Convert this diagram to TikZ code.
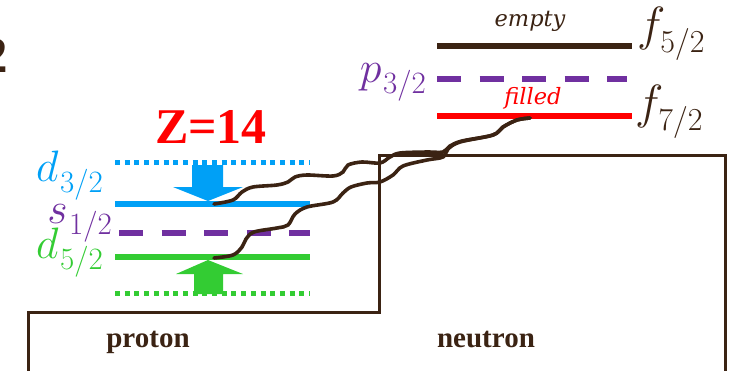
\RequirePackage{fix-cm}
\documentclass[tikz,border=0pt]{standalone}
\usepackage{fontspec}
\newfontfamily\lserif{Liberation Serif}
\newfontfamily\dserif{DejaVu Serif}
\definecolor{lvblue}{HTML}{00A0F6}
\definecolor{lvpurple}{HTML}{7030A0}
\definecolor{lvgreen}{HTML}{33CC33}
\definecolor{lvred}{HTML}{FF0000}
\definecolor{ink}{HTML}{3B2313}
% orbital label: italic letter with a lowered j-value
\newcommand\orb[4][1.5pt]{$#2$\kern#1\raisebox{-0.27em}{\fontsize{#4}{#4}\selectfont #3}}
\tikzset{
  level/.style={line width=6pt},
  dottedlevel/.style={line width=5pt, dash pattern=on 5pt off 4.7pt},
  dashedlevel/.style={line width=6pt, dash pattern=on 24pt off 18.5pt},
  wave/.style={ink, line width=3.6pt, line cap=round, smooth, tension=0.55},
  wellline/.style={ink, line width=3pt},
  orbit/.style={inner sep=0pt, font=\fontsize{44}{50}\selectfont},
  forbit/.style={inner sep=0pt, font=\fontsize{48}{54}\selectfont, text=ink},
  tag/.style={inner sep=0pt, font=\dserif\itshape\fontsize{22.5}{26}\selectfont},
  side/.style={inner sep=0pt, text=ink, font=\lserif\bfseries\fontsize{29}{34}\selectfont},
}
\begin{document}
\begin{tikzpicture}[x=1pt, y=-1pt]
\useasboundingbox (0,0) rectangle (729,370);
\clip (0,0) rectangle (729,370);

% heading fragment (runs off the left edge)
\node[inner sep=0pt, anchor=base east, text=ink, font=\lserif\bfseries\fontsize{51}{60}\selectfont]
  (head) at (8,72) {2};

% potential well outline
\draw[wellline] (28,372) -- (28,312) -- (379,312) -- (379,155) -- (725,155) -- (725,372);
\node[side, anchor=base] (proton) at (148,347) {proton};
\node[side, anchor=base] (neutron) at (486,347) {neutron};

% proton levels
\node[inner sep=0pt, anchor=base, text=lvred, font=\lserif\bfseries\fontsize{50}{60}\selectfont]
  (zlab) at (211,143) {Z=14};
\draw[dottedlevel, lvblue] (115,162) -- (310,162);
\draw[level, lvblue] (115,204) -- (310,204);
\draw[dashedlevel, lvpurple] (119,233) -- (310,233);
\draw[level, lvgreen] (115,257) -- (310,257);
\draw[dottedlevel, lvgreen] (115,293) -- (310,293);

\fill[lvblue] (192,165) -- (223,165) -- (223,187) -- (243,187) -- (208,201)
  -- (173,187) -- (192,187) -- cycle;
\fill[lvgreen] (208,260) -- (243,274) -- (223,274) -- (223,294) -- (194,294)
  -- (194,274) -- (176,274) -- cycle;

\node[orbit, text=lvblue, anchor=base east] (d32) at (103,181) {\orb{d}{3/2}{31}};
\node[orbit, text=lvpurple, anchor=base east] (s12) at (112,223) {\orb{s}{1/2}{31}};
\node[orbit, text=lvgreen, anchor=base east] (d52) at (103,258) {\orb{d}{5/2}{31}};

% neutron levels
\draw[level, ink] (437,46) -- (632,46);
\draw[dashedlevel, lvpurple] (437,79) -- (627,79);
\draw[level, lvred] (437,116) -- (632,116);

\node[tag, text=ink, anchor=base] (empty) at (530,26) {empty};
\node[tag, text=lvred, anchor=base] (filled) at (533,104) {filled};
\node[forbit, anchor=base west] (f52) at (637,40) {\orb[-5pt]{f}{5/2}{32}};
\node[forbit, anchor=base west] (f72) at (635,118) {\orb[-5pt]{f}{7/2}{32}};
\node[orbit, text=lvpurple, anchor=base east] (p32) at (426,82) {\orb{p}{3/2}{31}};

% pair transfer paths
\coordinate (fromD) at (214,204);
\coordinate (fromS) at (214,258);
\coordinate (toF) at (530,118);
\draw[wave] plot coordinates {(fromD) (233,200) (242,192) (253,187) (277,185)
  (288,182) (295,177) (307,175) (333,176) (343,172) (348,165) (362,162) (380,163)
  (390,157) (400,153) (427,152) (443,152) (450,146) (462,141) (493,135) (503,127)
  (517,120) (toF)};
\draw[wave] plot coordinates {(fromS) (233,255) (242,247) (246,239) (254,232)
  (277,228) (288,225) (295,214) (307,207) (333,202) (343,193) (351,187) (367,183)
  (380,182) (393,175) (403,166) (427,160) (443,157) (448,149) (460,142) (493,135)
  (503,127) (517,120) (toF)};
\end{tikzpicture}
\end{document}
